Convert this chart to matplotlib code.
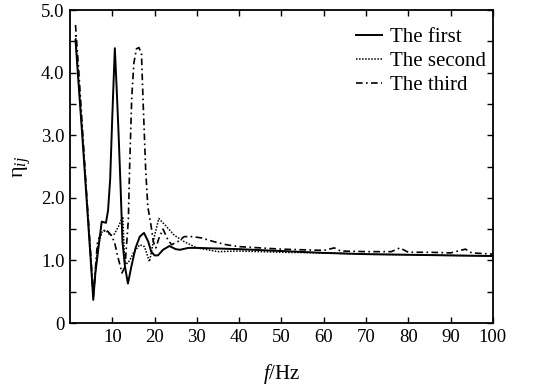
import matplotlib
matplotlib.use("Agg")
import matplotlib.pyplot as plt
import numpy as np

plt.rcParams['font.family'] = ['Liberation Serif', 'DejaVu Serif']
plt.rcParams['mathtext.fontset'] = 'custom'
plt.rcParams['mathtext.rm'] = 'Liberation Serif'
plt.rcParams['mathtext.it'] = 'Liberation Serif:italic'

# first mode
f_first = [1.3, 2, 3, 4, 5, 5.5, 6, 7, 7.5, 8.5, 9, 9.5, 10, 10.6, 11, 11.5, 12, 12.4, 13, 13.7,
           14.5, 15.5, 16.5, 17.5, 18.5, 19.2, 20, 20.8, 22, 23.5, 25, 26, 28, 30, 40, 50, 60,
           70, 80, 90, 100]
eta_first = [4.52, 3.85, 2.9, 1.9, 0.9, 0.37, 0.8, 1.35, 1.62, 1.6, 1.8, 2.3, 3.3, 4.39, 3.8, 3.0,
             2.1, 1.3, 0.9, 0.63, 0.9, 1.2, 1.38, 1.44, 1.3, 1.14, 1.08, 1.08, 1.17, 1.23, 1.18,
             1.17, 1.2, 1.2, 1.18, 1.15, 1.12, 1.1, 1.09, 1.08, 1.07]

# second mode
f_second = [1.3, 2, 3, 4, 5, 5.5, 6.5, 7.5, 8.5, 9.5, 10.5, 11.5, 12.5, 12.9, 13.5, 14.1, 15, 16.5,
            17.6, 18.8, 20, 21, 22.4, 24.7, 27, 30, 35, 40, 50, 60, 70, 80, 90, 100]
eta_second = [4.6, 3.9, 2.95, 1.95, 0.95, 0.42, 1.2, 1.45, 1.48, 1.4, 1.42, 1.55, 1.7, 1.0, 0.95,
              1.0, 1.12, 1.25, 1.22, 0.98, 1.4, 1.67, 1.57, 1.4, 1.3, 1.2, 1.14, 1.15, 1.13, 1.12,
              1.1, 1.09, 1.08, 1.07]

# third mode
f_third = [1.3, 2, 3, 4, 5, 5.5, 6.5, 7.5, 8.5, 9.5, 10.5, 11.3, 12.3, 13, 13.8, 14.1, 14.6, 15.1,
           15.7, 16.3, 16.9, 17.3, 17.9, 18.4, 19.2, 19.7, 20.3, 21, 22, 23, 24, 25.5, 27, 29, 31,
           34, 37, 40, 45, 50, 55, 60, 62.5, 64, 70, 76, 78, 80, 85, 90, 93.5, 95, 100]
eta_third = [4.76, 4.1, 3.05, 2.0, 1.0, 0.42, 1.3, 1.45, 1.5, 1.42, 1.3, 1.06, 0.8, 0.9, 1.65, 2.5,
             3.6, 4.15, 4.38, 4.4, 4.3, 3.51, 2.44, 1.86, 1.54, 1.3, 1.2, 1.35, 1.5, 1.35, 1.25,
             1.3, 1.38, 1.38, 1.36, 1.3, 1.25, 1.22, 1.2, 1.18, 1.17, 1.16, 1.2, 1.15, 1.14, 1.14,
             1.2, 1.13, 1.13, 1.12, 1.18, 1.12, 1.1]

fig = plt.figure(figsize=(5.36, 3.85), dpi=100)
ax = fig.add_axes([0.1306, 0.161, 0.789, 0.813])

ax.plot(f_first, eta_first, color='black', lw=1.4, ls='-', label='The first')
ax.plot(f_second, eta_second, color='black', lw=1.1, ls=(0, (1, 1)), label='The second')
ax.plot(f_third, eta_third, color='black', lw=1.2, ls=(0, (4, 2, 1, 2)), label='The third')

ax.set_xlim(0, 100)
ax.set_ylim(0, 5)
ax.set_xticks(np.arange(10, 101, 10))
ax.set_yticks([0, 1, 2, 3, 4, 5])
ax.set_yticklabels(['0', '1.0', '2.0', '3.0', '4.0', '5.0'])
ax.set_yticks(np.arange(0.5, 5, 1.0), minor=True)
ax.tick_params(which='both', direction='in', top=True, right=True, length=4, width=1,
               labelsize=13.5, pad=4)
for s in ax.spines.values():
    s.set_linewidth(1.3)

ax.set_xlabel('$f$/Hz', fontsize=15, labelpad=12)
ax.set_ylabel('η$_{ij}$', fontsize=16, labelpad=6)

ax.legend(loc='upper right', bbox_to_anchor=(1.018, 0.99), frameon=False, fontsize=15,
          handlelength=1.25, handletextpad=0.4, labelspacing=0.2, borderaxespad=0.3)

fig.savefig('out.png', dpi=100)
